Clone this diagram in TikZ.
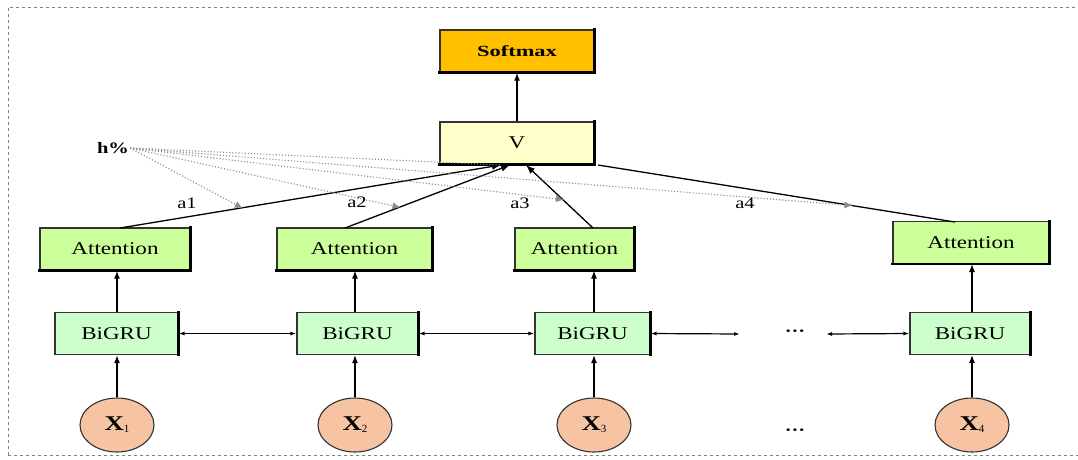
\documentclass[tikz,border=0pt]{standalone}
\usepackage{fontspec}
\setmainfont{Liberation Serif}
\newfontfamily\widefont[FakeStretch=1.28]{Liberation Serif}
\newfontfamily\widerfont[FakeStretch=1.45]{Liberation Serif}
\usetikzlibrary{arrows.meta,calc,shapes.geometric}
\definecolor{softorange}{HTML}{FFC000}
\definecolor{vyellow}{HTML}{FFFFCC}
\definecolor{attgreen}{HTML}{CCFF99}
\definecolor{grugreen}{HTML}{CCFFCC}
\definecolor{peach}{HTML}{F6C4A3}
\definecolor{framegray}{HTML}{808080}
\tikzset{
  box/.style={draw=black!80, line width=1.1pt, minimum height=42pt, inner sep=0pt,
    font=\widefont\fontsize{18}{18}\selectfont},
  edge/.style={draw=black, line width=2.2pt, line cap=rect},
  softbox/.style={box, fill=softorange, font=\widerfont\bfseries\fontsize{15.5}{15.5}\selectfont},
  vbox/.style={box, fill=vyellow},
  attbox/.style={box, fill=attgreen},
  grubox/.style={box, fill=grugreen},
  xnode/.style={draw=black!80, line width=1.1pt, ellipse, fill=peach, minimum width=74pt,
    minimum height=54pt, inner sep=0pt, font=\widefont\bfseries\fontsize{21}{21}\selectfont},
  up/.style={-{Latex[length=8pt,width=6pt]}, line width=1.2pt},
  upthick/.style={-{Latex[length=8pt,width=6pt]}, line width=2.2pt},
  link/.style={{Latex[length=6pt,width=4pt]}-{Latex[length=6pt,width=4pt]}, line width=1.2pt},
  attn/.style={-{Latex[length=9pt,width=7pt]}, line width=1.3pt},
  weight/.style={dotted, line width=1.1pt, black!45, -{Latex[length=8pt,width=7pt]}, shorten >=-1pt},
  lbl/.style={font=\widefont\fontsize{16}{16}\selectfont, inner sep=1pt},
  frame/.style={framegray, dashed, dash pattern=on 3pt off 3pt, line width=0.8pt}
}
\begin{document}
\begin{tikzpicture}[x=1pt,y=-1pt]
\useasboundingbox (0,0) rectangle (1078,459);
% outer frame
\draw[frame] (8,455) -- (8,7) -- (1078,7);
\draw[frame] (8,455) -- (1078,455);

% top of the network
\node[softbox, minimum width=154pt] (soft) at (517,51) {Softmax};
\node[vbox, minimum width=154pt] (v) at (517,143) {V};

% attention layer
\node[attbox, minimum width=150pt] (att1) at (115,249) {Attention};
\node[attbox, minimum width=155pt] (att2) at (354.5,249) {Attention};
\node[attbox, minimum width=119pt] (att3) at (574.5,249) {Attention};
\node[attbox, minimum width=156pt] (att4) at (971,242.5) {Attention};

% recurrent layer
\node[grubox, minimum width=123pt] (gru1) at (116.5,333.5) {BiGRU};
\node[grubox, minimum width=121pt] (gru2) at (357.5,333.5) {BiGRU};
\node[grubox, minimum width=115pt] (gru3) at (592.5,333.5) {BiGRU};
\node[grubox, minimum width=120pt] (gru4) at (970,333.5) {BiGRU};

% heavier shadow edges on the boxes
\foreach \b in {att1,att2,att3,att4,soft,v} {
  \draw[edge] (\b.south west) -- (\b.south east) -- (\b.north east);
}
\foreach \b in {gru1,gru2,gru3,gru4} {
  \draw[edge] (\b.north east) -- (\b.south east);
}

% inputs
\node[xnode] (x1) at (117,425) {X\raisebox{-2pt}{\normalfont\fontsize{11}{11}\selectfont 1}};
\node[xnode] (x2) at (355,425) {X\raisebox{-2pt}{\normalfont\fontsize{11}{11}\selectfont 2}};
\node[xnode] (x3) at (594,425) {X\raisebox{-2pt}{\normalfont\fontsize{11}{11}\selectfont 3}};
\node[xnode] (x4) at (972,425) {X\raisebox{-2pt}{\normalfont\fontsize{11}{11}\selectfont 4}};

\node[lbl] (dots1) at (795,333) {\textbf{···}};
\node[lbl] (dots2) at (795,432) {\textbf{···}};

% input -> BiGRU -> Attention (vertical, aligned on the inputs)
\draw[upthick] (x1) -- (x1 |- gru1.south);
\draw[up] (x2) -- (x2 |- gru2.south);
\draw[up] (x3) -- (x3 |- gru3.south);
\draw[up] (x4) -- (x4 |- gru4.south);
\draw[upthick] (x1 |- gru1.north) -- (x1 |- att1.south);
\draw[up] (x2 |- gru2.north) -- (x2 |- att2.south);
\draw[up] (x3 |- gru3.north) -- (x3 |- att3.south);
\draw[up] (x4 |- gru4.north) -- (x4 |- att4.south);

% bidirectional links between time steps
\coordinate (l3) at (740,334);
\coordinate (r4) at (826,334);
\draw[link] (gru1) -- (gru2);
\draw[link] (gru2) -- (gru3);
\draw[link] (gru3.east) -- (l3);
\draw[link] (r4) -- (gru4.west);

% V -> Softmax
\draw[upthick] (v) -- (soft);

% attention -> V
\coordinate (a1s) at (120,228);
\coordinate (a2s) at (345,228);
\coordinate (a3s) at (593,228);
\coordinate (a4s) at (955,222);
\coordinate (v1) at (501,165);
\coordinate (v2) at (510,165);
\coordinate (v3) at (526,165);
\coordinate (v4) at (598,165);
\draw[attn] (a1s) -- (v1);
\draw[attn] (a2s) -- (v2);
\draw[attn] (a3s) -- (v3);
\draw[line width=1.3pt] (a4s) -- (v4);

% weights from the hidden state
\node[lbl, font=\widefont\bfseries\fontsize{16}{16}\selectfont] (h) at (113,148) {h\%};
\coordinate (w1) at ($(a1s)!0.32!(v1)$);
\coordinate (w2) at ($(a2s)!0.33!(v2)$);
\coordinate (w3) at ($(a3s)!0.45!(v3)$);
\coordinate (w4) at ($(v4)!0.71!(a4s)$);
\draw[weight] (h.east) -- (w1);
\draw[weight] (h.east) -- (w2);
\draw[weight] (h.east) -- (w3);
\draw[weight] (h.east) -- (w4);
\draw[dotted, line width=1.1pt, black!45] (h.east) -- (v1);

\node[lbl] (la1) at (187,203) {a1};
\node[lbl] (la2) at (357,202) {a2};
\node[lbl] (la3) at (520,203) {a3};
\node[lbl] (la4) at (745,203) {a4};
\end{tikzpicture}
\end{document}
